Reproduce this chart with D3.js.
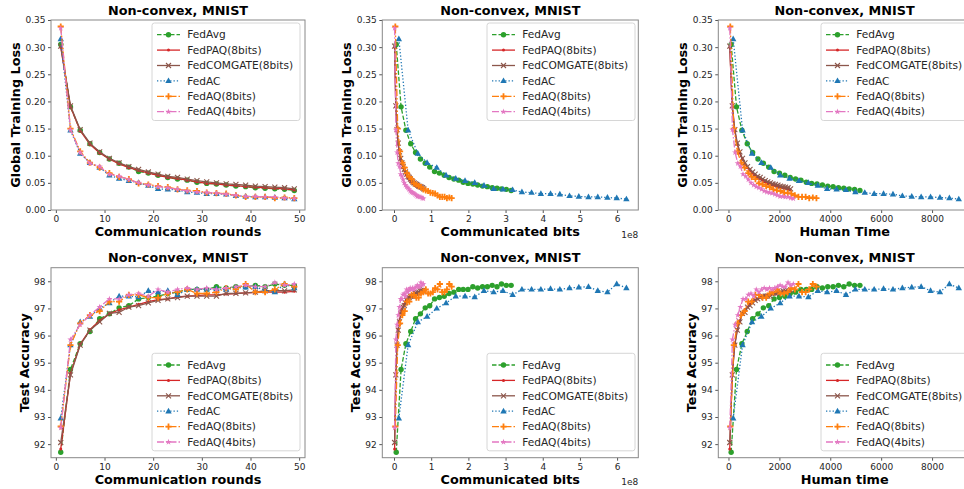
<!DOCTYPE html>
<html>
<head>
<meta charset="utf-8">
<title>Non-convex, MNIST</title>
<script src="https://cdn.jsdelivr.net/npm/d3@7"></script>
<style>
  body { margin: 0; background: #fff; }
  text { font-family: "DejaVu Sans", sans-serif; }
  .tick text { fill: #262626; font-size: 9px; }
  .tick line { stroke: #555; }
  .lab { font-weight: bold; font-size: 12.8px; fill: #000; }
  .leg text { font-size: 10.6px; fill: #262626; }
</style>
</head>
<body>
<svg width="964" height="489"></svg>
<script>
// ---- data ----
var rounds = [1,3,5,7,9,11,13,15,17,19,21,23,25,27,29,31,33,35,37,39,41,43,45,47,49];

var lossAvg = [0.305,0.190,0.147,0.122,0.106,0.094,0.086,0.079,0.071,0.068,0.064,0.060,0.057,0.055,0.051,0.049,0.048,0.046,0.044,0.043,0.041,0.040,0.039,0.038,0.036];
var lossPAQ = [0.300,0.190,0.146,0.121,0.105,0.094,0.085,0.078,0.073,0.068,0.064,0.060,0.058,0.055,0.052,0.049,0.048,0.046,0.045,0.043,0.042,0.041,0.040,0.039,0.037];
var lossCOM = [0.302,0.192,0.148,0.123,0.107,0.095,0.087,0.080,0.075,0.070,0.066,0.062,0.060,0.057,0.054,0.052,0.050,0.048,0.047,0.046,0.044,0.043,0.042,0.041,0.039];
var lossAC  = [0.315,0.147,0.104,0.087,0.078,0.064,0.058,0.054,0.050,0.045,0.039,0.038,0.037,0.033,0.032,0.030,0.030,0.029,0.026,0.025,0.024,0.024,0.023,0.022,0.020];
var lossAQ8 = [0.338,0.150,0.108,0.087,0.078,0.068,0.061,0.057,0.049,0.047,0.044,0.042,0.038,0.036,0.035,0.032,0.031,0.030,0.027,0.024,0.024,0.024,0.022,0.023,0.022];
var lossAQ4 = [0.335,0.148,0.106,0.086,0.080,0.066,0.062,0.056,0.050,0.046,0.043,0.041,0.038,0.035,0.033,0.032,0.031,0.029,0.027,0.025,0.025,0.024,0.024,0.022,0.021];

var accAvg = [91.70,94.75,95.70,96.15,96.62,96.80,97.02,97.10,97.35,97.40,97.45,97.55,97.60,97.70,97.70,97.70,97.80,97.75,97.80,97.80,97.85,97.80,97.90,97.85,97.85];
var accPAQ = [91.82,94.60,95.68,96.22,96.55,96.80,96.95,97.05,97.15,97.25,97.32,97.35,97.42,97.45,97.47,97.50,97.50,97.53,97.55,97.57,97.58,97.60,97.60,97.60,97.63];
var accCOM = [92.06,94.55,95.65,96.20,96.50,96.82,96.85,97.05,97.10,97.20,97.30,97.35,97.40,97.45,97.45,97.45,97.45,97.55,97.55,97.57,97.60,97.65,97.65,97.65,97.68];
var accAC  = [92.95,95.65,96.50,96.70,97.00,97.20,97.45,97.45,97.42,97.65,97.60,97.65,97.50,97.70,97.70,97.70,97.72,97.70,97.75,97.78,97.80,97.65,97.60,97.90,97.75];
var accAQ8 = [92.65,95.65,96.45,96.75,96.90,97.25,97.25,97.50,97.50,97.40,97.40,97.55,97.60,97.70,97.55,97.55,97.60,97.75,97.70,97.90,97.60,97.60,97.70,97.90,97.80];
var accAQ4 = [92.60,95.85,96.40,96.75,97.05,97.35,97.35,97.50,97.55,97.45,97.70,97.60,97.70,97.75,97.70,97.75,97.70,97.75,97.80,97.85,97.80,97.80,97.95,97.85,97.90];

// communicated bits, in units of 1e8
var bitsAvg = [0.06,0.19,0.32,0.45,0.58,0.71,0.84,0.96,1.09,1.22,1.35,1.48,1.61,1.74,1.86,1.99,2.12,2.25,2.38,2.51,2.64,2.77,2.89,3.02,3.15];
var bitsPAQ = [0.016,0.048,0.081,0.113,0.145,0.177,0.21,0.242,0.274,0.306,0.339,0.371,0.403,0.435,0.468,0.5,0.532,0.564,0.597,0.629,0.661,0.693,0.726,0.758,0.79];
var bitsCOM = [0.016,0.049,0.082,0.114,0.147,0.18,0.212,0.245,0.278,0.31,0.343,0.376,0.408,0.441,0.473,0.506,0.539,0.571,0.604,0.637,0.669,0.702,0.735,0.767,0.8];
var bitsAC  = [0.13,0.38,0.64,0.89,1.15,1.4,1.66,1.91,2.17,2.42,2.68,2.93,3.19,3.44,3.7,3.95,4.21,4.46,4.72,4.97,5.23,5.48,5.74,5.99,6.25];
var bitsAQ8 = [0.035,0.1,0.162,0.224,0.287,0.349,0.411,0.474,0.537,0.6,0.663,0.726,0.79,0.853,0.916,0.979,1.043,1.106,1.17,1.233,1.297,1.36,1.423,1.487,1.55];
var bitsAQ4 = [0.017,0.05,0.083,0.115,0.147,0.179,0.211,0.243,0.275,0.307,0.339,0.371,0.403,0.435,0.467,0.5,0.532,0.564,0.596,0.628,0.66,0.692,0.725,0.757,0.79];

// human time
var timeAvg = [105,316,527,738,949,1160,1370,1581,1792,2003,2214,2424,2635,2846,3057,3268,3478,3689,3900,4111,4322,4532,4743,4954,5165];
var timePAQ = [49,148,247,346,445,543,642,741,840,939,1037,1136,1235,1334,1433,1531,1630,1729,1828,1927,2025,2124,2223,2322,2420];
var timeCOM = [50,150,249,349,449,548,648,748,847,947,1047,1146,1246,1346,1445,1545,1645,1744,1844,1944,2043,2143,2243,2342,2440];
var timeAC  = [185,554,924,1293,1662,2032,2401,2770,3140,3509,3878,4248,4617,4986,5356,5725,6094,6464,6833,7202,7572,7941,8310,8680,9050];
var timeAQ8 = [71,212,353,494,635,776,917,1058,1199,1340,1481,1622,1763,1904,2045,2186,2327,2468,2609,2750,2891,3032,3173,3314,3456];
var timeAQ4 = [52,156,260,364,468,572,676,780,884,988,1092,1196,1300,1404,1508,1612,1716,1820,1924,2028,2132,2236,2340,2444,2548];

var methods = ["FedAvg","FedPAQ(8bits)","FedCOMGATE(8bits)","FedAC","FedAQ(8bits)","FedAQ(4bits)"];
var lossTicks = [0,0.05,0.10,0.15,0.20,0.25,0.30,0.35];
var accTicks = [92,93,94,95,96,97,98];
var roundTicks = [0,10,20,30,40,50];
var bitTicks = [0,1,2,3,4,5,6];
var timeTicks = [0,2000,4000,6000,8000];

// ---- styles ----
var styles = [
  {color:"#2ca02c", dash:"4.5,2",     marker:"circle"},
  {color:"#d62728", dash:null,        marker:"dot"},
  {color:"#8c564b", dash:null,        marker:"x"},
  {color:"#1f77b4", dash:"1.3,2",     marker:"tri"},
  {color:"#ff7f0e", dash:"7,2,1.5,2", marker:"plus"},
  {color:"#e377c2", dash:"7,2,1.5,2", marker:"star"}
];

var loss = [lossAvg,lossPAQ,lossCOM,lossAC,lossAQ8,lossAQ4];
var acc  = [accAvg,accPAQ,accCOM,accAC,accAQ8,accAQ4];
var bits = [bitsAvg,bitsPAQ,bitsCOM,bitsAC,bitsAQ8,bitsAQ4];
var time = [timeAvg,timePAQ,timeCOM,timeAC,timeAQ8,timeAQ4];

var cols = [
  {x0:51,    x1:305,   dom:[-1.0,51.2],   ticks:roundTicks, fmt:d3.format("d"), xs:function(i){ return rounds; },
   xlab:["Communication rounds","Communication rounds"], legX:152},
  {x0:382.3, x1:638.3, dom:[-0.315,6.57], ticks:bitTicks,   fmt:d3.format("d"), xs:function(i){ return bits[i]; },
   xlab:["Communicated bits","Communicated bits"], legX:487, offset:"1e8"},
  {x0:718.3, x1:971,   dom:[-400,9530],   ticks:timeTicks,  fmt:d3.format("d"), xs:function(i){ return time[i]; },
   xlab:["Human Time","Human time"], legX:821}
];
var rows = [
  {y0:20,    y1:210,   dom:[0,0.35],    ticks:lossTicks, fmt:d3.format(".2f"), ys:loss,
   ylab:"Global Training Loss", labOff:31.5, legY:23},
  {y0:267.7, y1:457.7, dom:[91.5,98.5], ticks:accTicks,  fmt:d3.format("d"),   ys:acc,
   ylab:"Test Accuracy", labOff:22.5, legY:353.3}
];

var svg = d3.select("svg");

function marker(g, type, x, y, c) {
  if (type == "circle") {
    g.append("circle").attr("cx", x).attr("cy", y).attr("r", 2.7).attr("fill", c);
  } else if (type == "dot") {
    g.append("circle").attr("cx", x).attr("cy", y).attr("r", 1.5).attr("fill", c);
  } else if (type == "x") {
    var s = 2.5;
    g.append("path").attr("d", "M"+(x-s)+","+(y-s)+"L"+(x+s)+","+(y+s)+"M"+(x-s)+","+(y+s)+"L"+(x+s)+","+(y-s))
      .attr("stroke", c).attr("stroke-width", 1.1).attr("fill", "none");
  } else if (type == "tri") {
    g.append("path").attr("d", "M"+x+","+(y-3.5)+"L"+(x+3.2)+","+(y+2.2)+"L"+(x-3.2)+","+(y+2.2)+"Z").attr("fill", c);
  } else if (type == "plus") {
    var p = 3.1;
    g.append("path").attr("d", "M"+(x-p)+","+y+"L"+(x+p)+","+y+"M"+x+","+(y-p)+"L"+x+","+(y+p))
      .attr("stroke", c).attr("stroke-width", 1.8).attr("fill", "none");
  } else if (type == "star") {
    g.append("path").attr("d", d3.symbol().type(d3.symbolStar).size(12)())
      .attr("transform", "translate("+x+","+y+")").attr("fill", c);
  }
}

rows.forEach(function(row, r) {
  cols.forEach(function(col, c) {
    var x = d3.scaleLinear().domain(col.dom).range([col.x0, col.x1]);
    var y = d3.scaleLinear().domain(row.dom).range([row.y1, row.y0]);
    var g = svg.append("g");

    // axes
    g.append("g").attr("transform", "translate(0,"+row.y1+")")
      .call(d3.axisBottom(x).tickValues(col.ticks).tickFormat(col.fmt).tickSize(3).tickPadding(2.5))
      .call(function(a){ a.select(".domain").remove(); });
    g.append("g").attr("transform", "translate("+col.x0+",0)")
      .call(d3.axisLeft(y).tickValues(row.ticks).tickFormat(row.fmt).tickSize(3).tickPadding(2.5))
      .call(function(a){ a.select(".domain").remove(); });

    // series
    var line = d3.line().x(function(d){ return x(d[0]); }).y(function(d){ return y(d[1]); });
    methods.forEach(function(m, i) {
      var pts = d3.zip(col.xs(i), row.ys[i]);
      var st = styles[i];
      g.append("path").datum(pts).attr("d", line)
        .attr("fill", "none").attr("stroke", st.color).attr("stroke-width", 1.3)
        .attr("stroke-dasharray", st.dash);
      var mg = g.append("g");
      pts.forEach(function(p){ marker(mg, st.marker, x(p[0]), y(p[1]), st.color); });
    });

    // frame
    g.append("rect").attr("x", col.x0).attr("y", row.y0)
      .attr("width", col.x1 - col.x0).attr("height", row.y1 - row.y0)
      .attr("fill", "none").attr("stroke", "#888").attr("stroke-width", 1);

    // labels
    var cx = (col.x0 + col.x1) / 2;
    g.append("text").attr("class", "lab").attr("x", cx).attr("y", row.y0 - 5.5)
      .attr("text-anchor", "middle").text("Non-convex, MNIST");
    g.append("text").attr("class", "lab").attr("x", cx).attr("y", row.y1 + 26)
      .attr("text-anchor", "middle").text(col.xlab[r]);
    g.append("text").attr("class", "lab")
      .attr("transform", "translate("+(col.x0 - row.labOff)+","+((row.y0 + row.y1) / 2)+") rotate(-90)")
      .attr("text-anchor", "middle").text(row.ylab);
    if (col.offset) {
      g.append("text").attr("x", col.x1).attr("y", row.y1 + 27.5).attr("text-anchor", "end")
        .attr("font-size", "9px").attr("fill", "#262626").text(col.offset);
    }

    // legend
    var lg = g.append("g").attr("class", "leg");
    lg.append("rect").attr("x", col.legX).attr("y", row.legY).attr("width", 148).attr("height", 97.5)
      .attr("rx", 2.5).attr("fill", "#fff").attr("fill-opacity", 0.8).attr("stroke", "#ccc").attr("stroke-width", 0.8);
    methods.forEach(function(m, i) {
      var ly = row.legY + 11.7 + i * 15.4;
      var st = styles[i];
      lg.append("line").attr("x1", col.legX + 5).attr("x2", col.legX + 28).attr("y1", ly).attr("y2", ly)
        .attr("stroke", st.color).attr("stroke-width", 1.3).attr("stroke-dasharray", st.dash);
      marker(lg, st.marker, col.legX + 16.5, ly, st.color);
      lg.append("text").attr("x", col.legX + 35.3).attr("y", ly).attr("dy", "0.35em").text(m);
    });
  });
});
</script>
</body>
</html>
